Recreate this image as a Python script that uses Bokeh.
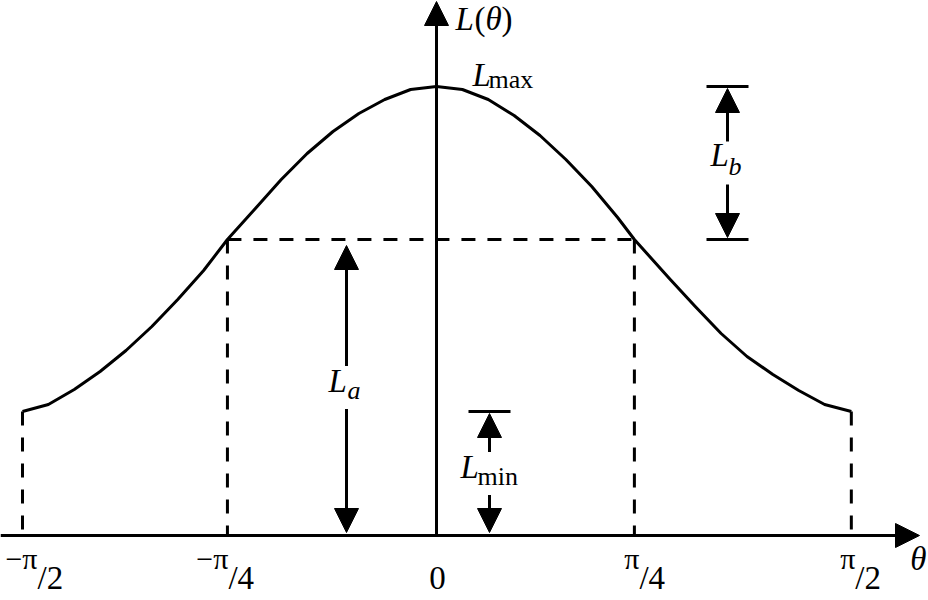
import numpy as np
from bokeh.plotting import figure
from bokeh.models import Arrow, NormalHead, Range1d
from bokeh.core.properties import value
from bokeh.embed import file_html
from bokeh.resources import INLINE

PI = np.pi

# ---- data ----
# theta in units of pi/2, L(theta) in drawing units (baseline L = 0)
theta_frac = [-1.0, -0.9375, -0.875, -0.8125, -0.75, -0.6875, -0.625, -0.5625,
              -0.505, -0.4375, -0.375, -0.3125, -0.25, -0.1875, -0.125, -0.0625,
              0.0,
              0.0625, 0.125, 0.1875, 0.25, 0.3125, 0.375, 0.4375, 0.478,
              0.5625, 0.625, 0.6875, 0.75, 0.8125, 0.875, 0.9375, 1.002]
L_curve = [124, 131, 146, 164, 185, 209, 236, 265,
           296, 327, 356, 382, 404, 422, 436, 446,
           449,
           446, 436, 420, 400, 376, 349, 318, 296,
           257, 229, 202, 179, 161, 145, 131, 124]

L_max = 449          # peak value
L_mid = 296          # value at the two "pi/4" marks
L_min = 124          # value at +-pi/2

# positions of the marks on the theta axis (units of pi/2), as drawn
mark_frac = [-1.0, -0.505, 0.478, 1.002]
tick_num = ["\u2212\u03c0", "\u2212\u03c0", "\u03c0", "\u03c0"]
tick_den = ["/2", "/4", "/4", "/2"]

# ---- layout ----
W, H = 928, 600
PX_PER_RAD = 414 / (PI / 2)      # pixels per radian
X0, BASE = 436, 535              # pixel position of the origin

FONT = value("Liberation Serif")
BIG, SMALL, SUP = 33, 26, 30
LW = 3

p = figure(width=W, height=H,
           x_range=Range1d(-X0 / PX_PER_RAD, (W - X0) / PX_PER_RAD),
           y_range=Range1d(-(H - BASE), BASE),
           output_backend="svg", toolbar_location=None,
           x_axis_location=None, y_axis_location=None, min_border=0)
p.grid.visible = False
p.outline_line_color = None
p.background_fill_color = "white"
p.border_fill_color = "white"


def rx(px):
    """pixels -> radians (horizontal distance)"""
    return px / PX_PER_RAD


def put(x, y, txt, dx, dy, size=BIG, style="normal", align="left"):
    # dy is the wanted baseline offset; the renderer puts the baseline ~0.4em lower
    p.text(x=[x], y=[y], text=[txt], x_offset=dx, y_offset=dy - 0.4 * size,
           text_font=FONT, text_font_size=f"{size}px", text_font_style=style,
           text_align=align, text_baseline="alphabetic", text_color="black")


def head():
    return NormalHead(size=24, fill_color="black", line_color="black", line_width=1)


mx = [f * PI / 2 for f in mark_frac]

# dashed guide lines
p.segment(x0=[mx[1], mx[1], mx[2], mx[0], mx[3]],
          y0=[L_mid, L_mid, L_mid, L_min, L_min],
          x1=[mx[2], mx[1], mx[2], mx[0], mx[3]],
          y1=[L_mid, 0, 0, 0, 0],
          line_color="black", line_width=LW, line_dash="14 12")

# curve
p.line(x=[f * PI / 2 for f in theta_frac], y=L_curve,
       line_color="black", line_width=LW, line_join="round")

# axes with arrows
xr, yr = p.x_range, p.y_range
p.add_layout(Arrow(end=head(), x_start=xr.start, y_start=0,
                   x_end=xr.end - rx(9), y_end=0, line_width=LW))
p.add_layout(Arrow(end=head(), x_start=0, y_start=0,
                   x_end=0, y_end=yr.end - 1, line_width=LW))

# dimension markers
GAP = 21.5
x_La = rx(346 - X0)
x_Lb = rx(727 - X0)
x_Lmin = rx(489 - X0)
BAR = rx(21)


def dim(x, lo, hi, lo_pad, hi_pad):
    mid = (lo + hi) / 2
    p.add_layout(Arrow(end=head(), x_start=x, y_start=mid + GAP,
                       x_end=x, y_end=hi - hi_pad, line_width=LW))
    p.add_layout(Arrow(end=head(), x_start=x, y_start=mid - GAP,
                       x_end=x, y_end=lo + lo_pad, line_width=LW))
    return mid


mid_b = dim(x_Lb, L_mid, L_max, 2, 2)
mid_a = dim(x_La, 0, L_mid, 3, 6)
mid_m = dim(x_Lmin, 0, L_min, 3, 2)

p.segment(x0=[x_Lb - BAR, x_Lb - BAR, x_Lmin - BAR],
          y0=[L_max, L_mid, L_min],
          x1=[x_Lb + BAR, x_Lb + BAR, x_Lmin + BAR],
          y1=[L_max, L_mid, L_min],
          line_color="black", line_width=LW)

# labels of the dimensions
put(x_Lb, mid_b, "L", -17, 5.5, style="italic")
put(x_Lb, mid_b, "b", 1, 13.5, size=SMALL, style="italic")
put(x_La, mid_a, "L", -18, 6.5, style="italic")
put(x_La, mid_a, "a", 1, 13.5, size=SMALL, style="italic")
put(x_Lmin, mid_m, "L", -29, 6.5, style="italic")
put(x_Lmin, mid_m, "min", -12, 13.5, size=SMALL)

# L_max label
put(0, L_max, "L", 36, 2, style="italic")
put(0, L_max, "max", 52, 3, size=SMALL)

# axis title L(theta)
put(0, yr.end, "L", 19, 32, style="italic")
put(0, yr.end, "(", 38, 32)
put(0, yr.end, "\u03b8", 49, 32, style="italic")
put(0, yr.end, ")", 65, 32)

# theta label
put(xr.end, 0, "\u03b8", -2, 37, style="italic", align="right")

# tick labels
den_dx = [15, 1, 5, 4]
for t, num, den, dx in zip(mx, tick_num, tick_den, den_dx):
    put(t, 0, num, dx, 35, size=SUP, align="right")
    put(t, 0, den, dx, 56)
put(0, 0, "0", 1, 56, align="center")

open("out.html", "w").write(file_html(p, INLINE))
